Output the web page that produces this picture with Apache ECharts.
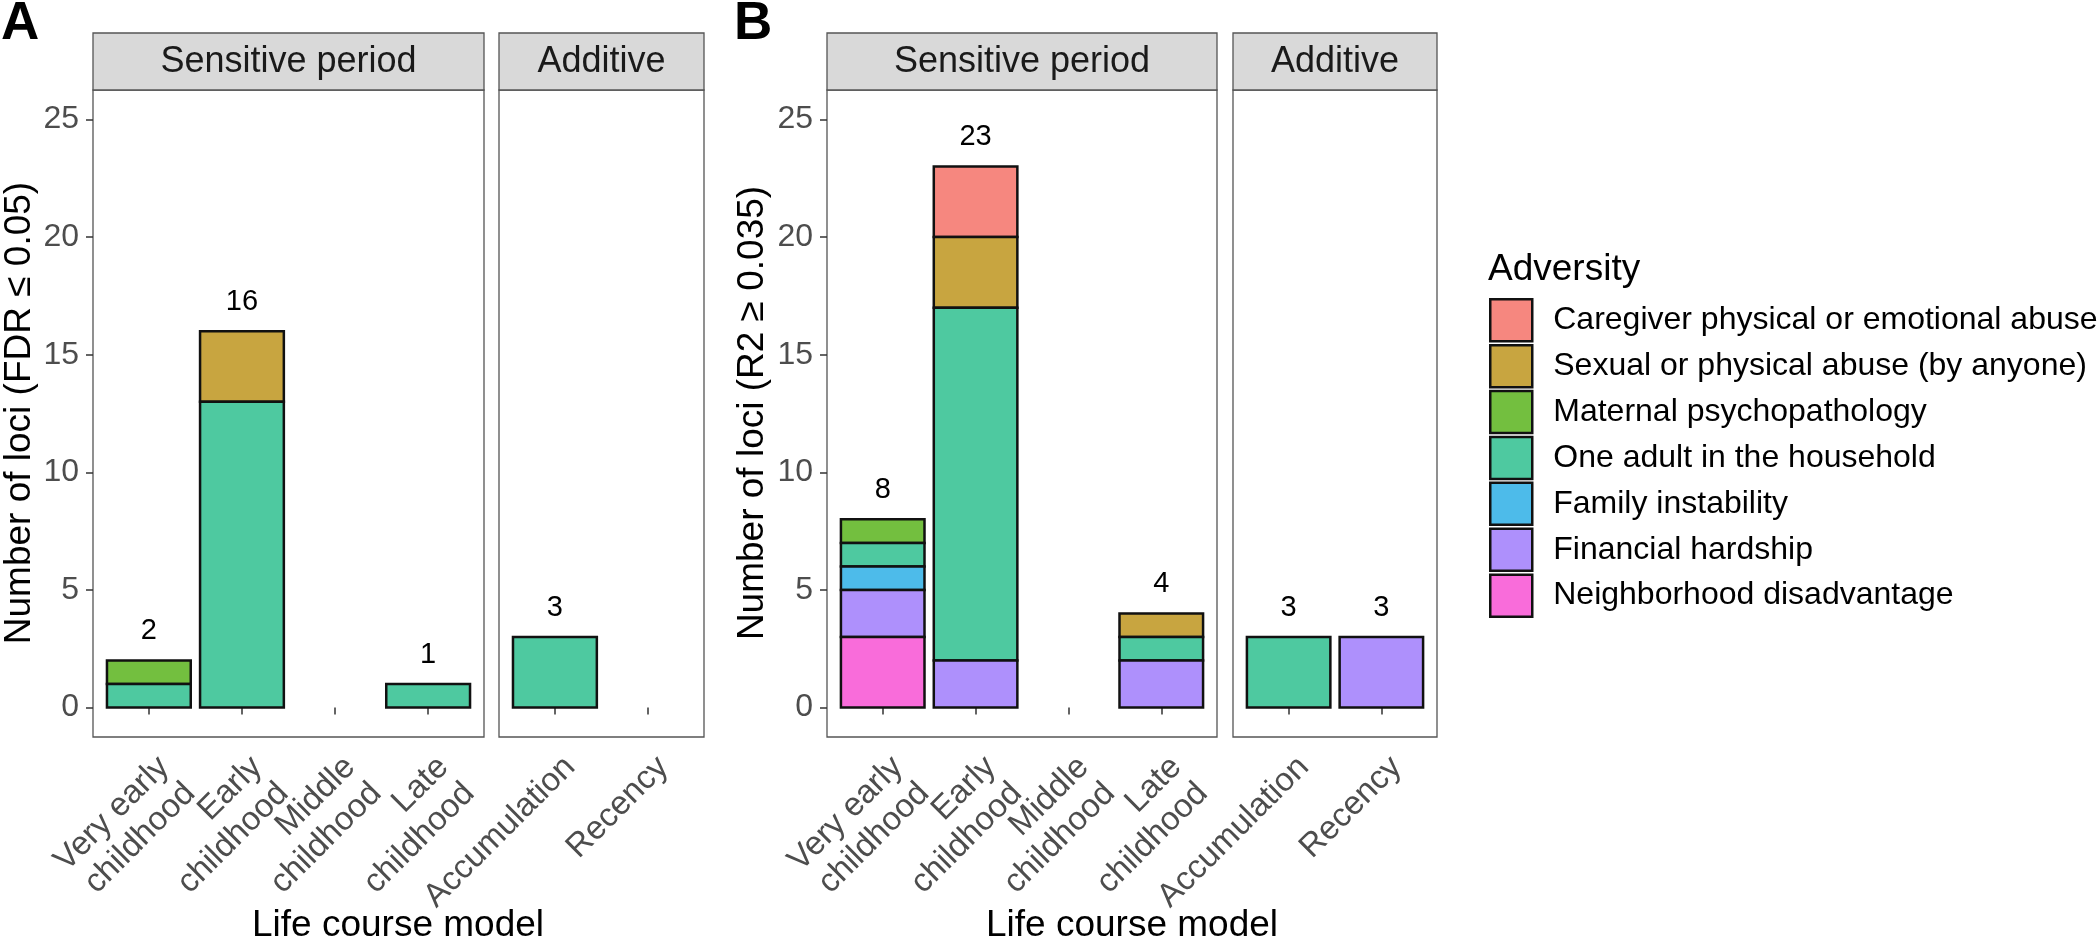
<!DOCTYPE html>
<html>
<head>
    <meta charset="utf-8">
    <title>Loci by life course model</title>
    <script src="https://cdn.jsdelivr.net/npm/echarts@6/dist/echarts.min.js"></script>
    <style>
        html, body { margin: 0; padding: 0; background: #fff; }
    </style>
</head>
<body>
<div id="main" style="width: 2100px;height:944px"></div>
<script type="text/javascript">
    // life course models (x categories) per facet
    var sensitiveModels = ['Very early\nchildhood', 'Early\nchildhood', 'Middle\nchildhood', 'Late\nchildhood'];
    var additiveModels = ['Accumulation', 'Recency'];

    // adversities, top of the stack first (same as legend order)
    var adversities = [
        'Caregiver physical or emotional abuse',
        'Sexual or physical abuse (by anyone)',
        'Maternal psychopathology',
        'One adult in the household',
        'Family instability',
        'Financial hardship',
        'Neighborhood disadvantage'
    ];
    var adversityColors = ['#F6877F', '#C8A540', '#73BF3F', '#4EC9A0', '#4DBBEA', '#AE90FC', '#F96CDA'];

    // counts: rows = adversity, columns = 4 sensitive period models + 2 additive models
    var fdrCounts = [
        [0, 0, 0, 0, 0, 0],
        [0, 3, 0, 0, 0, 0],
        [1, 0, 0, 0, 0, 0],
        [1, 13, 0, 1, 3, 0],
        [0, 0, 0, 0, 0, 0],
        [0, 0, 0, 0, 0, 0],
        [0, 0, 0, 0, 0, 0]
    ];
    var r2Counts = [
        [0, 3, 0, 0, 0, 0],
        [0, 3, 0, 1, 0, 0],
        [1, 0, 0, 0, 0, 0],
        [1, 15, 0, 1, 3, 0],
        [1, 0, 0, 0, 0, 0],
        [2, 2, 0, 2, 0, 3],
        [3, 0, 0, 0, 0, 0]
    ];

    var yTicks = [0, 5, 10, 15, 20, 25];

    var FONT = "'Liberation Sans', Arial, Helvetica, sans-serif";
    var myChart = echarts.init(document.getElementById('main'), null, {renderer: 'canvas'});

    // panel boxes (layout only)
    var panels = [
        {left: 93, width: 391, title: 'Sensitive period', models: sensitiveModels, offset: 0, counts: fdrCounts, yLabels: true},
        {left: 499, width: 205, title: 'Additive', models: additiveModels, offset: 4, counts: fdrCounts, yLabels: false},
        {left: 827, width: 390, title: 'Sensitive period', models: sensitiveModels, offset: 0, counts: r2Counts, yLabels: true},
        {left: 1233, width: 204, title: 'Additive', models: additiveModels, offset: 4, counts: r2Counts, yLabels: false}
    ];
    var PTOP = 90, PH = 647, YMIN = -1.25, YMAX = 26.25;

    function renderBar(params, api) {
        var x = api.value(0), y0 = api.value(1), y1 = api.value(2);
        var tl = api.coord([x - 0.45, y1]);
        var br = api.coord([x + 0.45, y0]);
        return {
            type: 'rect',
            shape: {x: tl[0], y: tl[1], width: br[0] - tl[0], height: br[1] - tl[1]},
            style: {fill: api.visual('color'), stroke: '#111', lineWidth: 2.5}
        };
    }

    function renderTotal(params, api) {
        var p = api.coord([api.value(0), api.value(1) + 1.25]);
        return {
            type: 'text',
            x: p[0], y: p[1],
            style: {
                text: String(api.value(1)),
                fontSize: 29, fontFamily: FONT, fill: '#000',
                align: 'center', verticalAlign: 'middle'
            }
        };
    }

    // rotated two-line tick labels (drawn here so none of them gets dropped as overlapping)
    function makeTickLabelRenderer(names) {
        return function (params, api) {
            var p = api.coord([api.value(0), YMIN]);
            return {
                type: 'text',
                x: p[0] + 2, y: p[1] + 12,
                rotation: Math.PI / 4,
                style: {
                    text: names[params.dataIndex],
                    fontSize: 33, lineHeight: 37, fontFamily: FONT, fill: '#4D4D4D',
                    align: 'right', verticalAlign: 'top'
                }
            };
        };
    }

    var grids = [], xAxes = [], yAxes = [], series = [], graphics = [];

    panels.forEach(function (pn, g) {
        var n = pn.models.length;
        grids.push({left: pn.left, top: PTOP, width: pn.width, height: PH,
            show: true, borderColor: '#555', borderWidth: 1.3, backgroundColor: '#fff'});
        var ticks = pn.models.map(function (m, i) { return i + 1; });
        xAxes.push({
            type: 'value', gridIndex: g, min: 0.4, max: n + 0.6,
            splitLine: {show: false}, axisLine: {show: false},
            axisTick: {show: true, customValues: ticks, length: 7, lineStyle: {color: '#333', width: 1.5}},
            axisLabel: {show: false}
        });
        yAxes.push({
            type: 'value', gridIndex: g, min: YMIN, max: YMAX,
            splitLine: {show: false}, axisLine: {show: false},
            axisTick: {show: pn.yLabels, customValues: yTicks, length: 7, lineStyle: {color: '#333', width: 1.5}},
            axisLabel: {show: pn.yLabels, customValues: yTicks, margin: 14,
                fontSize: 32, color: '#4D4D4D', fontFamily: FONT}
        });

        // stacked segments, bottom of the stack is the last adversity
        var base = pn.models.map(function () { return 0; });
        var segs = adversities.map(function () { return []; });
        for (var a = adversities.length - 1; a >= 0; a--) {
            for (var c = 0; c < n; c++) {
                var v = pn.counts[a][pn.offset + c];
                if (v > 0) {
                    segs[a].push([c + 1, base[c], base[c] + v]);
                    base[c] += v;
                }
            }
        }
        adversities.forEach(function (name, a) {
            series.push({
                type: 'custom', name: name, xAxisIndex: g, yAxisIndex: g,
                itemStyle: {color: adversityColors[a]},
                renderItem: renderBar, data: segs[a],
                encode: {x: 0, y: [1, 2]}, silent: true
            });
        });
        var totals = [];
        base.forEach(function (t, c) { if (t > 0) totals.push([c + 1, t]); });
        series.push({
            type: 'custom', name: 'totals' + g, xAxisIndex: g, yAxisIndex: g,
            renderItem: renderTotal, data: totals, encode: {x: 0, y: 1}, silent: true
        });
        series.push({
            type: 'custom', name: 'ticklabels' + g, xAxisIndex: g, yAxisIndex: g, clip: false,
            renderItem: makeTickLabelRenderer(pn.models),
            data: ticks.map(function (t) { return [t]; }), encode: {x: 0}, silent: true
        });

        // facet strip
        graphics.push({
            type: 'rect', shape: {x: pn.left, y: 33, width: pn.width, height: 57},
            style: {fill: '#D9D9D9', stroke: '#555', lineWidth: 1.3}
        });
        graphics.push({
            type: 'text', x: pn.left + pn.width / 2, y: 62,
            style: {text: pn.title, fontSize: 36, fontFamily: FONT, fill: '#1A1A1A',
                align: 'center', verticalAlign: 'middle'}
        });
    });

    // panel letters and axis titles
    graphics.push(
        {type: 'text', x: 1, y: 24, style: {text: 'A', fontSize: 53, fontWeight: 'bold', fontFamily: FONT, fill: '#000', align: 'left', verticalAlign: 'middle'}},
        {type: 'text', x: 734, y: 24, style: {text: 'B', fontSize: 53, fontWeight: 'bold', fontFamily: FONT, fill: '#000', align: 'left', verticalAlign: 'middle'}},
        {type: 'text', x: 20, y: 413, rotation: Math.PI / 2,
            style: {text: 'Number of loci (FDR \u2264 0.05)', fontSize: 37, fontFamily: FONT, fill: '#000', align: 'center', verticalAlign: 'middle'}},
        {type: 'text', x: 753, y: 413, rotation: Math.PI / 2,
            style: {text: 'Number of loci (R2 \u2265 0.035)', fontSize: 37, fontFamily: FONT, fill: '#000', align: 'center', verticalAlign: 'middle'}},
        {type: 'text', x: 398, y: 926,
            style: {text: 'Life course model', fontSize: 37, fontFamily: FONT, fill: '#000', align: 'center', verticalAlign: 'middle'}},
        {type: 'text', x: 1132, y: 926,
            style: {text: 'Life course model', fontSize: 37, fontFamily: FONT, fill: '#000', align: 'center', verticalAlign: 'middle'}},
        {type: 'text', x: 1488, y: 270,
            style: {text: 'Adversity', fontSize: 37, fontFamily: FONT, fill: '#000', align: 'left', verticalAlign: 'middle'}}
    );

    var option = {
        backgroundColor: '#fff',
        animation: false,
        grid: grids,
        xAxis: xAxes,
        yAxis: yAxes,
        legend: {
            data: adversities,
            orient: 'vertical', left: 1489, top: 298, padding: 0,
            icon: 'rect', itemWidth: 42, itemHeight: 42, itemGap: 1.4,
            selectedMode: false,
            itemStyle: {borderColor: '#111', borderWidth: 2.5},
            textStyle: {fontSize: 32, color: '#000', fontFamily: FONT, padding: [0, 0, 0, 16]}
        },
        graphic: graphics,
        series: series
    };

    myChart.setOption(option);
</script>
</body>
</html>
